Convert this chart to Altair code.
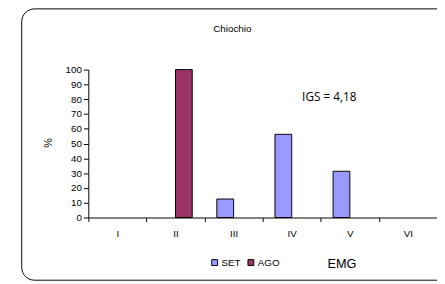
import altair as alt
import pandas as pd

categories = ["I", "II", "III", "IV", "V", "VI"]
series = ["SET", "AGO"]
set_values = [0, 0, 12.5, 56.25, 31.25, 0]
ago_values = [0, 100, 0, 0, 0, 0]
colors = ["#9999FF", "#993366"]
y_ticks = [0, 10, 20, 30, 40, 50, 60, 70, 80, 90, 100]

rows = []
for c, s, a in zip(categories, set_values, ago_values):
    rows.append({"cat": c, "serie": "SET", "value": s})
    rows.append({"cat": c, "serie": "AGO", "value": a})
df = pd.DataFrame(rows)

FONT = "Liberation Sans"

bars = alt.Chart(df).mark_bar(stroke="black", strokeWidth=1).encode(
    x=alt.X("cat:N", sort=categories,
            scale=alt.Scale(domain=categories, paddingInner=0, paddingOuter=0),
            axis=alt.Axis(title=None, labelAngle=0, tickBand="extent", tickSize=4,
                          labelPadding=7, labelFont=FONT, labelFontSize=10,
                          labelColor="black", domainColor="black", tickColor="black",
                          grid=False)),
    xOffset=alt.XOffset("serie:N", sort=series,
                        scale=alt.Scale(domain=series, paddingOuter=0.735, paddingInner=0)),
    y=alt.Y("value:Q", scale=alt.Scale(domain=[0, 100], nice=False),
            axis=alt.Axis(title=None, values=y_ticks, tickSize=5, labelPadding=2,
                          labelFont=FONT, labelFontSize=10, labelColor="black",
                          domainColor="black", tickColor="black", grid=False)),
    color=alt.Color("serie:N", sort=series,
                    scale=alt.Scale(domain=series, range=colors),
                    legend=alt.Legend(title=None, orient="none", legendX=124, legendY=192,
                                      direction="horizontal", symbolType="square",
                                      symbolSize=36, symbolStrokeColor="black",
                                      symbolStrokeWidth=1, labelFont=FONT, labelFontSize=10,
                                      labelColor="black", columnPadding=5, labelOffset=2)),
).transform_filter("datum.value > 0")

one = alt.Data(values=[{}])

border = alt.Chart(one).mark_rect(fill=None, stroke="black", strokeWidth=1,
                                  cornerRadius=13).encode(
    x=alt.value(-68), x2=alt.value(420), y=alt.value(-62), y2=alt.value(215))

title = alt.Chart(one).mark_text(text="Chiochio", font=FONT, fontSize=10,
                                 color="black").encode(x=alt.value(147), y=alt.value(-41))
ylab = alt.Chart(one).mark_text(text="%", font=FONT, fontSize=11, angle=270,
                                color="black").encode(x=alt.value(-40), y=alt.value(75))
igs = alt.Chart(one).mark_text(text="IGS = 4,18", font="Open Sans", fontSize=12,
                               color="black").encode(x=alt.value(246), y=alt.value(28))
emg = alt.Chart(one).mark_text(text="EMG", font=FONT, fontSize=13,
                               color="black").encode(x=alt.value(259), y=alt.value(199))

chart = alt.layer(bars, border, title, ylab, igs, emg).properties(
    width=356, height=151,
    autosize=alt.AutoSizeParams(type="none"),
    padding={"left": 82, "top": 60, "right": 0, "bottom": 66},
).configure_view(stroke=None)

chart.save("out.html", embed_options={"renderer": "svg", "actions": False})
